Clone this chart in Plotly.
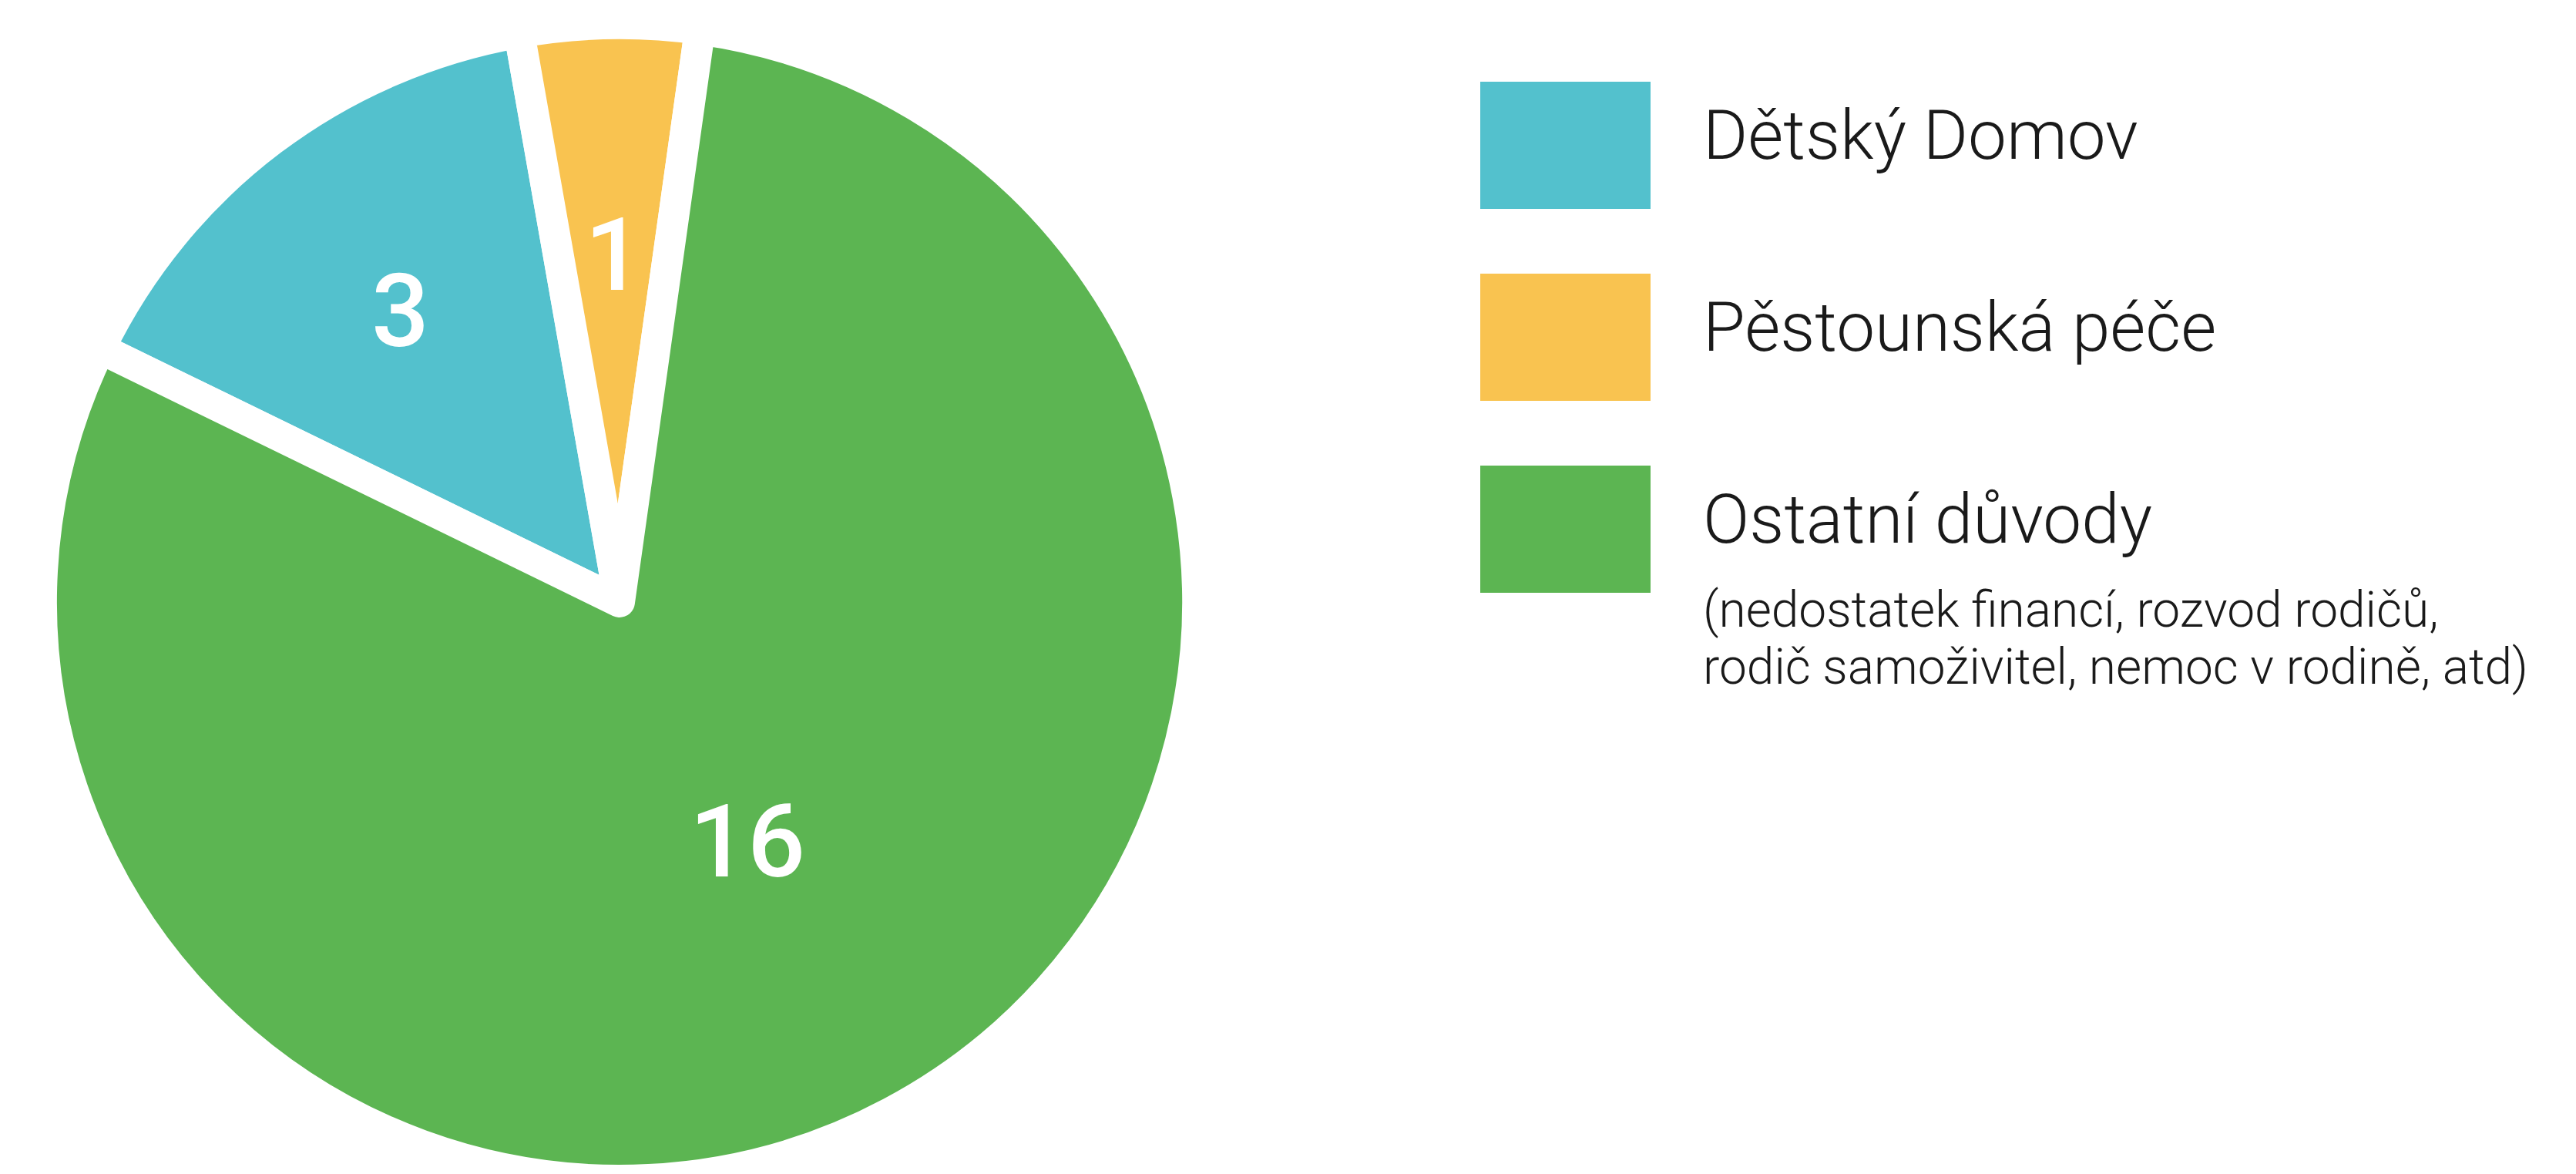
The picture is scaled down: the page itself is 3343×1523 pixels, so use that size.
import math
import plotly.graph_objects as go

# ---- data ----
categories = ["Dětský Domov", "Pěstounská péče", "Ostatní důvody"]
values = [3, 1, 16]
colors = ["#53C1CD", "#F9C350", "#5CB552"]
note_lines = ["(nedostatek financí, rozvod rodičů,", "rodič samoživitel, nemoc v rodině, atd)"]

# ---- style / layout ----
W, H = 3343, 1523
dom_x = [0, 1592 / W]
dom_y = [0, 0.985]
rotation = -64
line_w = 40
label_radius = [0.63, 0.60, 0.47]   # radial position of value labels (fraction of radius)

fig = go.Figure()
fig.add_trace(go.Pie(
    labels=categories,
    values=values,
    sort=False,
    direction="clockwise",
    rotation=rotation,
    marker=dict(colors=colors, line=dict(color="white", width=line_w)),
    textinfo="none",
    domain=dict(x=dom_x, y=dom_y),
    showlegend=False,
    hoverinfo="label+value",
))

# value labels placed at each slice's mid angle
wpx = (dom_x[1] - dom_x[0]) * W
hpx = (dom_y[1] - dom_y[0]) * H
R = min(wpx, hpx) / 2
cx = (dom_x[0] + dom_x[1]) / 2 * W
cy = (1 - (dom_y[0] + dom_y[1]) / 2) * H
total = sum(values)
start = rotation
for v, frac in zip(values, label_radius):
    span = v / total * 360
    mid = math.radians(start + span / 2)
    start += span
    x = cx + frac * R * math.sin(mid)
    y = cy - frac * R * math.cos(mid)
    fig.add_annotation(xref="paper", yref="paper", x=x / W, y=1 - y / H,
                       xanchor="center", yanchor="middle", showarrow=False, text=str(v),
                       font=dict(family="Roboto", size=132, color="white", weight=500))

# custom legend (large rectangular swatches)
sw_x0, sw_x1 = 1913, 2134
sw_tops = [98, 347, 596]
sw_h = 165
text_x = 2200
for cat, col, top in zip(categories, colors, sw_tops):
    fig.add_shape(type="rect", xref="paper", yref="paper",
                  x0=sw_x0 / W, x1=sw_x1 / W,
                  y0=1 - top / H, y1=1 - (top + sw_h) / H,
                  fillcolor=col, line=dict(width=0))
    fig.add_annotation(xref="paper", yref="paper", x=text_x / W, y=1 - (top + sw_h / 2 - 13) / H,
                       xanchor="left", yanchor="middle", showarrow=False, text=cat,
                       font=dict(family="Roboto", size=89, color="#1a1a1a", weight=300))

for i, line in enumerate(note_lines):
    fig.add_annotation(xref="paper", yref="paper", x=text_x / W, y=1 - (784 + 73 * i) / H,
                       xanchor="left", yanchor="middle", showarrow=False, text=line,
                       font=dict(family="Roboto", size=64, color="#1a1a1a", weight=300))

fig.update_layout(
    width=W, height=H,
    margin=dict(l=0, r=0, t=0, b=0),
    paper_bgcolor="white", plot_bgcolor="white",
)

fig.write_html("out.html")
